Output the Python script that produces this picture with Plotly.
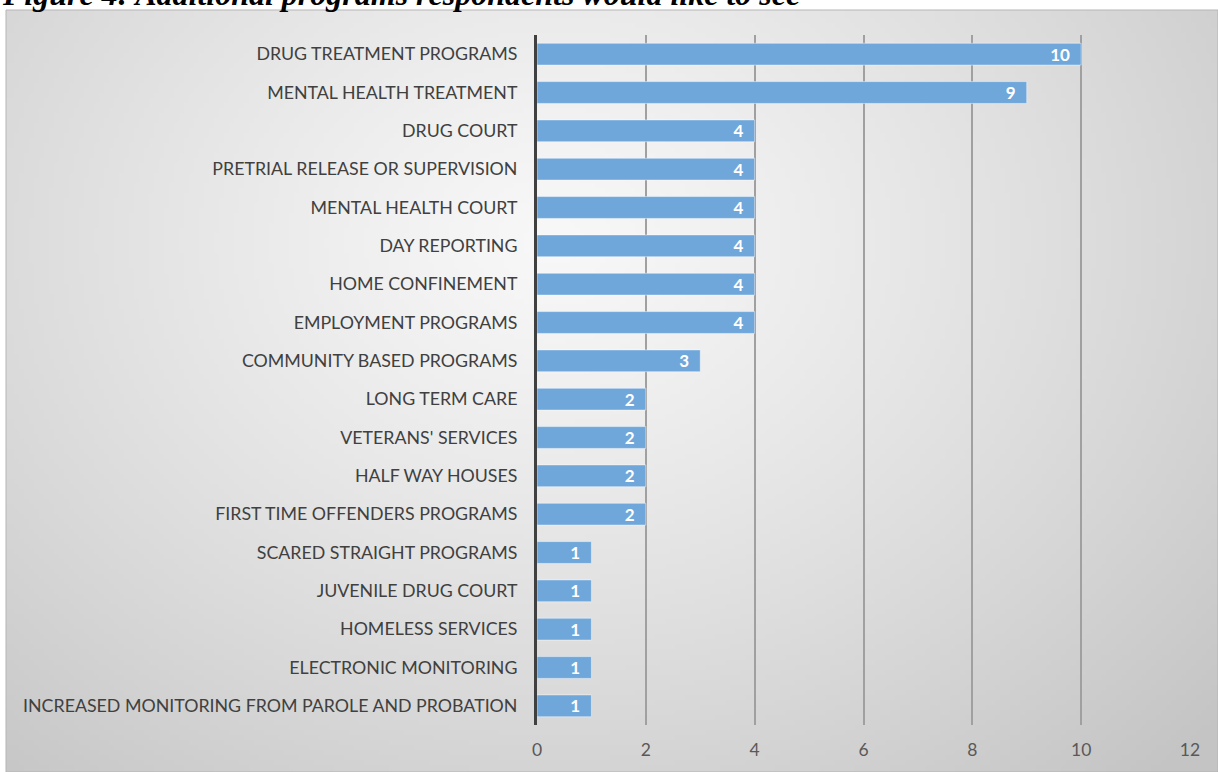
import base64, struct, zlib
import numpy as np
import plotly.graph_objects as go

programs = [
    "DRUG TREATMENT PROGRAMS",
    "MENTAL HEALTH TREATMENT",
    "DRUG COURT",
    "PRETRIAL RELEASE OR SUPERVISION",
    "MENTAL HEALTH COURT",
    "DAY REPORTING",
    "HOME CONFINEMENT",
    "EMPLOYMENT PROGRAMS",
    "COMMUNITY BASED PROGRAMS",
    "LONG TERM CARE",
    "VETERANS' SERVICES",
    "HALF WAY HOUSES",
    "FIRST TIME OFFENDERS PROGRAMS",
    "SCARED STRAIGHT PROGRAMS",
    "JUVENILE DRUG COURT",
    "HOMELESS SERVICES",
    "ELECTRONIC MONITORING",
    "INCREASED MONITORING FROM PAROLE AND PROBATION",
]
respondents = [10, 9, 4, 4, 4, 4, 4, 4, 3, 2, 2, 2, 2, 1, 1, 1, 1, 1]
x_ticks = [0, 2, 4, 6, 8, 10, 12]
title_text = "Figure 4: Additional programs respondents would like to see"

W, H = 1218, 772


def gradient_png(w, h):
    yy, xx = np.mgrid[0:h, 0:w]
    cx, cy = 0.45 * w, 0.30 * h
    r = np.sqrt(((xx - cx) / (0.75 * w)) ** 2 + ((yy - cy) / (0.95 * h)) ** 2)
    r = np.clip(r, 0, 1)
    v = 248 - 52 * r ** 1.2
    v = np.clip(v, 0, 255).astype(np.uint8)
    raw = b"".join(b"\x00" + v[i].tobytes() for i in range(h))

    def chunk(t, d):
        c = struct.pack(">I", len(d)) + t + d
        return c + struct.pack(">I", zlib.crc32(t + d) & 0xFFFFFFFF)

    png = b"\x89PNG\r\n\x1a\n"
    png += chunk(b"IHDR", struct.pack(">IIBBBBB", w, h, 8, 0, 0, 0, 0))
    png += chunk(b"IDAT", zlib.compress(raw, 9))
    png += chunk(b"IEND", b"")
    return "data:image/png;base64," + base64.b64encode(png).decode()


bg = gradient_png(242, 152)

fig = go.Figure()
fig.add_trace(go.Bar(
    x=respondents,
    y=programs,
    orientation="h",
    marker=dict(color="#6fa7db", line=dict(color="rgba(255,255,255,0.45)", width=1)),
    text=respondents,
    texttemplate="%{x}\u00a0\u00a0",
    textposition="inside",
    insidetextanchor="end",
    textangle=0,
    constraintext="none",
    textfont=dict(family="Lato", size=17, color="white", weight="bold"),
    hoverinfo="skip",
))

gx0, gy0 = 6, 10
fig.update_layout(
    width=W, height=H,
    margin=dict(l=0, r=0, t=0, b=0, autoexpand=False),
    paper_bgcolor="white",
    plot_bgcolor="rgba(0,0,0,0)",
    showlegend=False,
    bargap=0.43,
    images=[dict(
        source=bg, xref="paper", yref="paper",
        x=gx0 / W, y=1 - gy0 / H, sizex=(W - gx0) / W, sizey=(H - gy0) / H,
        xanchor="left", yanchor="top", sizing="stretch", layer="below",
    )],
    shapes=[dict(
        type="rect", xref="paper", yref="paper",
        x0=gx0 / W, x1=1, y0=0, y1=1 - gy0 / H,
        line=dict(color="#b5b5b5", width=1), layer="below",
    )],
    annotations=[dict(
        text=title_text, xref="paper", yref="paper", x=0, y=1,
        xanchor="left", yanchor="bottom", yshift=-14, showarrow=False,
        font=dict(family="Liberation Serif", size=32, color="black",
                  weight="bold", style="italic"),
    )],
    xaxis=dict(
        domain=[537 / W, 1190 / W], range=[0, 12],
        tickvals=x_ticks, ticktext=[str(v) for v in x_ticks],
        showgrid=True, gridcolor="#a0a0a0", gridwidth=1.5,
        zeroline=False, showline=False, ticks="",
        tickfont=dict(family="Lato", size=17.5, color="#595959"),
        ticklabelstandoff=12,
    ),
    yaxis=dict(
        domain=[1 - 725 / H, 1 - 35 / H],
        autorange="reversed",
        showgrid=False, zeroline=False,
        showline=True, linecolor="#404040", linewidth=3,
        ticks="", ticklabelstandoff=13,
        tickfont=dict(family="Lato", size=17.8, color="#404040"),
    ),
)

fig.write_html("out.html", config={"displayModeBar": False},
               post_script="document.body.style.margin='0';")
